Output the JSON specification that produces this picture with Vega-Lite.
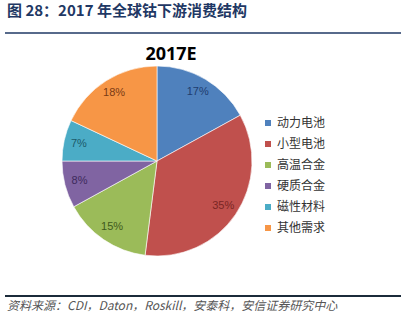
{
  "$schema": "https://vega.github.io/schema/vega-lite/v6.json",
  "background": "white",
  "padding": {"left": 4, "top": 4, "right": 4, "bottom": 0},
  "title": {
    "text": "图 28：2017 年全球钴下游消费结构",
    "anchor": "start",
    "frame": "group",
    "font": "Noto Sans CJK SC",
    "fontSize": 15,
    "fontWeight": "bold",
    "color": "#1F3864",
    "offset": 13,
    "dx": 2
  },
  "spacing": 11,
  "vconcat": [
    {
      "width": 396,
      "height": 2,
      "data": {"values": [{"line": "header"}]},
      "mark": {"type": "rule", "color": "#1F3864", "strokeWidth": 1.6},
      "encoding": {
        "x": {"value": 0},
        "x2": {"value": "width"},
        "y": {"value": 1}
      }
    },
    {
      "spacing": 37,
      "vconcat": [
        {
          "width": 304,
          "height": 190,
          "title": {
            "text": "2017E",
            "font": "Open Sans",
            "fontSize": 18,
            "fontWeight": "bold",
            "color": "#000000",
            "anchor": "middle",
            "frame": "group",
            "dx": 14,
            "offset": 1
          },
          "data": {
            "values": [
              {"category": "动力电池", "share": 0.17, "rank": 1},
              {"category": "小型电池", "share": 0.35, "rank": 2},
              {"category": "高温合金", "share": 0.15, "rank": 3},
              {"category": "硬质合金", "share": 0.08, "rank": 4},
              {"category": "磁性材料", "share": 0.07, "rank": 5},
              {"category": "其他需求", "share": 0.18, "rank": 6}
            ]
          },
          "encoding": {
            "theta": {"field": "share", "type": "quantitative", "stack": true},
            "order": {"field": "rank", "type": "quantitative"}
          },
          "layer": [
            {
              "mark": {"type": "arc", "outerRadius": 95, "stroke": "#ffffff", "strokeWidth": 0.6},
              "encoding": {
                "color": {
                  "field": "category",
                  "type": "nominal",
                  "scale": {
                    "domain": ["动力电池", "小型电池", "高温合金", "硬质合金", "磁性材料", "其他需求"],
                    "range": ["#4F81BD", "#C0504D", "#9BBB59", "#8064A2", "#4BACC6", "#F79646"]
                  },
                  "legend": {
                    "orient": "none",
                    "legendX": 257,
                    "legendY": 51,
                    "title": null,
                    "padding": 0,
                    "symbolType": "square",
                    "symbolSize": 36,
                    "symbolStrokeWidth": 0,
                    "labelFont": "Noto Sans CJK SC",
                    "labelFontSize": 12,
                    "labelColor": "#333333",
                    "labelOffset": 3,
                    "rowPadding": 9
                  }
                }
              }
            },
            {
              "mark": {"type": "text", "radius": 80, "font": "Liberation Sans Narrow, Liberation Sans", "fontSize": 11},
              "encoding": {
                "text": {"field": "share", "type": "quantitative", "format": ".0%"},
                "color": {
                  "field": "category",
                  "type": "nominal",
                  "scale": {
                    "domain": ["动力电池", "小型电池", "高温合金", "硬质合金", "磁性材料", "其他需求"],
                    "range": ["#1F3D6E", "#7A2624", "#3F5A1C", "#3E2A5C", "#1C5A6A", "#7A3A14"]
                  },
                  "legend": null
                }
              }
            }
          ],
          "resolve": {"scale": {"color": "independent"}}
        },
        {
          "width": 396,
          "height": 16,
          "data": {"values": [{"source": "资料来源：CDI，Daton，Roskill，安泰科，安信证券研究中心"}]},
          "layer": [
            {
              "mark": {"type": "rule", "color": "#1B2B3A", "strokeWidth": 2},
              "encoding": {
                "x": {"value": 0},
                "x2": {"value": "width"},
                "y": {"value": 0}
              }
            },
            {
              "mark": {"type": "text", "align": "left", "baseline": "middle", "font": "Noto Sans CJK SC", "fontSize": 12, "fontStyle": "italic", "color": "#555555"},
              "encoding": {
                "text": {"field": "source", "type": "nominal"},
                "x": {"value": 2},
                "y": {"value": 10}
              }
            }
          ]
        }
      ]
    }
  ],
  "config": {"view": {"stroke": null}}
}
